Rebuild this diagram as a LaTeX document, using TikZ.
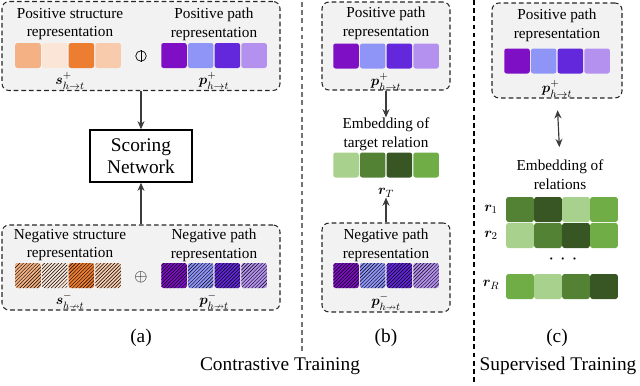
\documentclass[tikz,border=0pt]{standalone}
\usepackage{amsmath,amssymb}
\usepackage{bm}
\usepackage{fontspec}
\setmainfont{Liberation Serif}
\usepackage{tikz}
\usetikzlibrary{arrows.meta,patterns,positioning}

\definecolor{boxgray}{RGB}{242,242,242}
\definecolor{lineg}{RGB}{60,60,60}
\definecolor{or1}{RGB}{244,177,131}
\definecolor{or2}{RGB}{251,229,214}
\definecolor{or3}{RGB}{237,125,49}
\definecolor{or4}{RGB}{248,203,173}
\definecolor{pu1}{RGB}{126,15,197}
\definecolor{pu2}{RGB}{143,148,247}
\definecolor{pu3}{RGB}{99,40,219}
\definecolor{pu4}{RGB}{180,145,238}
\definecolor{gr1}{RGB}{169,209,142}
\definecolor{gr2}{RGB}{84,130,53}
\definecolor{gr3}{RGB}{55,86,35}
\definecolor{gr4}{RGB}{112,173,71}

\tikzset{
  repbox/.style={draw=black!85, line width=0.9pt, dash pattern=on 4pt off 2.5pt, rounded corners=6pt, fill=boxgray, inner sep=0pt},
  cell/.style={minimum width=0.765cm, minimum height=0.75cm, inner sep=0pt, rounded corners=2pt},
  hatched/.style={postaction={pattern=north east lines, pattern color=black}},
  title/.style={font=\fontsize{13}{16}\selectfont, align=center, inner sep=0pt},
  veclabel/.style={font=\fontsize{12.5}{14}\selectfont, inner sep=0pt},
  bigtext/.style={font=\fontsize{16.5}{19}\selectfont, align=center, inner sep=0pt},
  arr/.style={-{Stealth[length=7pt,width=6pt]}, line width=1pt, lineg},
}

\begin{document}
\begin{tikzpicture}[x=0.03cm, y=-0.03cm]
    \useasboundingbox (0,0) rectangle (640,385);

    % (a) boxes
    \node[repbox, minimum width=8.34cm, minimum height=2.67cm] (posA) at (141,46) {};
    \node[repbox, minimum width=8.34cm, minimum height=2.55cm] (negA) at (141,267.5) {};
    \node[draw, line width=1.2pt, minimum width=3.06cm, minimum height=1.56cm, bigtext] (score) at (141,156) {Scoring\\Network};

    % positive structure / path
    \node[title] (tPosS) at (70,24) {Positive structure\\representation};
    \node[title] (tPosP) at (214,24) {Positive path\\representation};
    \foreach \c [count=\i] in {or1,or2,or3,or4}
        \node[cell, fill=\c] (ps\i) at ({28+26.7*(\i-1)}, 55.5) {};
    \foreach \c [count=\i] in {pu1,pu2,pu3,pu4}
        \node[cell, fill=\c] (pp\i) at ({174+26.7*(\i-1)}, 55.5) {};
    \node[circle, draw, line width=0.6pt, minimum size=9pt, inner sep=0pt] (cat) at (141,56) {};
    \draw[line width=0.6pt] (cat.north) -- (cat.south);
    \node[veclabel] (sPos) at (70,81) {$\bm{s}^{+}_{h\rightarrow t}$};
    \node[veclabel] (pPos) at (214,81) {$\bm{p}^{+}_{h\rightarrow t}$};

    % negative structure / path
    \node[title] (tNegS) at (70,245) {Negative structure\\representation};
    \node[title] (tNegP) at (214,245) {Negative path\\representation};
    \foreach \c [count=\i] in {or1,or2,or3,or4}
        \node[cell, fill=\c, hatched] (ns\i) at ({28+26.7*(\i-1)}, 275.5) {};
    \foreach \c [count=\i] in {pu1,pu2,pu3,pu4}
        \node[cell, fill=\c, hatched] (np\i) at ({174+26.7*(\i-1)}, 275.5) {};
    \node[font=\fontsize{14}{14}\selectfont, inner sep=0pt] (plus) at (141,277) {$\oplus$};
    \node[veclabel] (sNeg) at (70,301) {$\bm{s}^{-}_{h\nrightarrow t}$};
    \node[veclabel] (pNeg) at (214,301) {$\bm{p}^{-}_{h\nrightarrow t}$};

    \draw[arr] (posA.south) -- (score.north);
    \draw[arr] (negA.north) -- (score.south);

    % (b)
    \node[repbox, minimum width=3.84cm, minimum height=2.64cm] (posB) at (386,46) {};
    \node[repbox, minimum width=3.84cm, minimum height=2.67cm] (negB) at (386,267.5) {};
    \node[title] (tPosB) at (386,23) {Positive path\\representation};
    \foreach \c [count=\i] in {pu1,pu2,pu3,pu4}
        \node[cell, fill=\c] (bp\i) at ({346+26.7*(\i-1)}, 56) {};
    \node[veclabel] (pPosB) at (386,82) {$\bm{p}^{+}_{h\rightarrow t}$};
    \node[title] (embT) at (386,134) {Embedding of\\target relation};
    \foreach \c [count=\i] in {gr1,gr2,gr3,gr4}
        \node[cell, fill=\c] (rt\i) at ({346+26.7*(\i-1)}, 165) {};
    \node[veclabel] (rT) at (386,193) {$\bm{r}_{T}$};
    \node[title] (tNegB) at (386,245) {Negative path\\representation};
    \foreach \c [count=\i] in {pu1,pu2,pu3,pu4}
        \node[cell, fill=\c, hatched] (bn\i) at ({346+26.7*(\i-1)}, 275.5) {};
    \node[veclabel] (pNegB) at (386,302) {$\bm{p}^{-}_{h\nrightarrow t}$};

    \draw[arr] (posB.south) -- (embT.north);
    \draw[arr] (negB.north) -- (rT.south);

    % (c)
    \node[repbox, minimum width=3.9cm, minimum height=2.85cm] (posC) at (557,50.5) {};
    \node[title] (tPosC) at (557,25) {Positive path\\representation};
    \foreach \c [count=\i] in {pu1,pu2,pu3,pu4}
        \node[cell, fill=\c] (cp\i) at ({517+26.7*(\i-1)}, 61) {};
    \node[veclabel] (pPosC) at (557,89) {$\bm{p}^{+}_{h\rightarrow t}$};
    \node[title] (embR) at (560,175) {Embedding of\\relations};
    \draw[arr, {Stealth[length=7pt,width=6pt]}-{Stealth[length=7pt,width=6pt]}, shorten <=10pt, shorten >=11pt] (posC.south) -- (embR.north);

    \foreach \c [count=\i] in {gr2,gr3,gr1,gr4}
        \node[cell, fill=\c, minimum width=0.83cm] (ra\i) at ({520+28*(\i-1)}, 209.5) {};
    \foreach \c [count=\i] in {gr1,gr2,gr3,gr4}
        \node[cell, fill=\c, minimum width=0.83cm] (rb\i) at ({520+28*(\i-1)}, 235.5) {};
    \foreach \c [count=\i] in {gr4,gr1,gr2,gr3}
        \node[cell, fill=\c, minimum width=0.83cm] (rc\i) at ({520+28*(\i-1)}, 286.5) {};
    \node[veclabel] (r1) at (491,209) {$\bm{r}_{1}$};
    \node[veclabel] (r2) at (491,235) {$\bm{r}_{2}$};
    \node[veclabel] (rR) at (491,285) {$\bm{r}_{R}$};
    \node[font=\fontsize{13}{13}\selectfont, inner sep=0pt] (dots) at (563,259) {$\bm{\cdot}\;\bm{\cdot}\;\bm{\cdot}$};

    % separators
    \draw[black!55, line width=0.9pt, dash pattern=on 4pt off 3pt] (302,2) -- (302,352);
    \draw[black, line width=0.9pt, dash pattern=on 4pt off 3pt] (474,0) -- (474,385);

    % captions
    \node[bigtext] (capA) at (141,338) {(a)};
    \node[bigtext] (capB) at (386,338) {(b)};
    \node[bigtext] (capC) at (557,338) {(c)};
    \node[bigtext] (contr) at (280,366) {Contrastive Training};
    \node[bigtext] (superv) at (558,366) {Supervised Training};
\end{tikzpicture}
\end{document}
